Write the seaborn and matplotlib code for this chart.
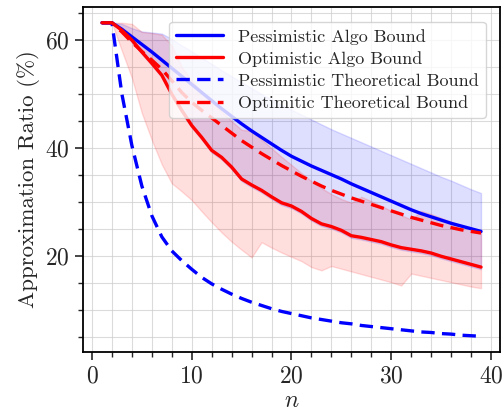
import numpy as np
import seaborn as sns
import matplotlib.pyplot as plt
from matplotlib.ticker import MultipleLocator

# number of items n
n = list(range(1, 40))

pess_algo = [63.2, 63.2, 62.0, 60.6, 59.2, 57.8, 56.3, 54.8, 53.3, 51.8,
             50.3, 48.8, 47.3, 45.9, 44.5, 43.2, 42.0, 40.8, 39.6, 38.5,
             37.6, 36.7, 35.9, 35.1, 34.3, 33.4, 32.6, 31.8, 31.0, 30.2,
             29.4, 28.6, 27.9, 27.3, 26.7, 26.1, 25.6, 25.1, 24.6]
pess_algo_hi = [63.2, 63.2, 63.0, 62.2, 61.6, 61.4, 61.2, 60.2, 59.0, 57.9,
                56.7, 55.6, 54.4, 53.3, 52.2, 51.1, 50.0, 49.0, 48.0, 47.1,
                46.2, 45.3, 44.4, 43.5, 42.7, 41.9, 41.1, 40.3, 39.5, 38.7,
                37.9, 37.1, 36.3, 35.5, 34.7, 34.0, 33.2, 32.4, 31.7]
pess_algo_lo = [63.2, 63.2, 61.5, 59.6, 57.4, 55.3, 53.1, 49.6, 46.6, 43.8,
                41.6, 39.2, 37.9, 36.1, 33.9, 32.8, 31.8, 30.6, 29.5, 28.9,
                27.9, 26.6, 25.6, 25.1, 24.4, 23.4, 23.1, 22.7, 22.3, 21.7,
                21.2, 20.9, 20.6, 20.2, 19.6, 19.1, 18.6, 18.1, 17.6]

opt_algo = [63.2, 63.2, 61.8, 60.0, 57.8, 55.7, 53.5, 50.0, 47.0, 44.2,
            42.0, 39.6, 38.3, 36.5, 34.3, 33.2, 32.2, 31.0, 29.9, 29.3,
            28.3, 27.0, 26.0, 25.5, 24.8, 23.8, 23.5, 23.1, 22.7, 22.1,
            21.6, 21.3, 21.0, 20.6, 20.0, 19.5, 19.0, 18.5, 18.0]
opt_algo_hi = [63.2, 63.2, 63.2, 63.0, 61.5, 61.3, 61.0, 59.0, 55.0, 52.5,
               50.5, 48.6, 46.8, 45.0, 43.4, 43.2, 41.6, 40.0, 38.4, 36.9,
               35.4, 33.9, 32.6, 31.5, 30.6, 29.9, 31.0, 30.2, 29.3, 28.4,
               27.6, 26.8, 28.4, 27.8, 27.1, 26.4, 25.7, 25.1, 24.5]
opt_algo_lo = [63.2, 63.2, 58.0, 53.0, 46.5, 41.5, 37.0, 33.5, 32.0, 30.4,
               28.3, 26.3, 24.4, 22.7, 21.2, 19.8, 22.6, 21.6, 20.7, 19.9,
               19.1, 18.0, 17.4, 18.2, 17.7, 17.2, 16.7, 16.2, 15.7, 15.2,
               14.6, 16.8, 16.4, 16.0, 15.6, 15.2, 14.8, 14.4, 14.1]

pess_theory = [63.2, 63.2, 50.0, 40.5, 33.0, 27.5, 23.6, 21.0, 19.2, 17.6,
               16.1, 14.9, 13.9, 13.0, 12.2, 11.5, 10.9, 10.3, 9.8, 9.4,
               9.0, 8.6, 8.3, 8.0, 7.7, 7.5, 7.2, 7.0, 6.8, 6.6,
               6.4, 6.2, 6.0, 5.9, 5.7, 5.6, 5.4, 5.3, 5.2]
opt_theory = [63.2, 63.2, 61.5, 59.6, 57.9, 56.3, 54.6, 52.5, 50.3, 48.5,
              47.0, 45.6, 44.2, 42.8, 41.4, 40.2, 39.0, 37.9, 36.8, 35.8,
              34.8, 33.9, 33.0, 32.2, 31.5, 30.8, 30.2, 29.6, 29.0, 28.4,
              27.8, 27.2, 26.7, 26.2, 25.7, 25.3, 24.9, 24.6, 24.3]

sns.set_style('ticks')
plt.rcParams['font.family'] = 'serif'
plt.rcParams['font.serif'] = ['cmr10', 'DejaVu Serif']
plt.rcParams['mathtext.fontset'] = 'cm'
plt.rcParams['axes.formatter.use_mathtext'] = True

fig, ax = plt.subplots(figsize=(5.03, 4.17), dpi=100)
fig.subplots_adjust(left=0.165, right=0.994, top=0.983, bottom=0.156)

ax.fill_between(n, pess_algo_lo, pess_algo_hi, color='blue', alpha=0.13)
ax.fill_between(n, opt_algo_lo, opt_algo_hi, color='red', alpha=0.13)

sns.lineplot(x=n, y=pess_algo, color='blue', lw=2.4, ax=ax, label='Pessimistic Algo Bound')
sns.lineplot(x=n, y=opt_algo, color='red', lw=2.4, ax=ax, label='Optimistic Algo Bound')
sns.lineplot(x=n, y=pess_theory, color='blue', lw=2.4, dashes=False, ax=ax,
             label='Pessimistic Theoretical Bound').lines[-1].set_dashes((4, 2.2))
sns.lineplot(x=n, y=opt_theory, color='red', lw=2.4, dashes=False, ax=ax,
             label='Optimitic Theoretical Bound').lines[-1].set_dashes((4, 2.2))

ax.xaxis.set_major_locator(MultipleLocator(10))
ax.xaxis.set_minor_locator(MultipleLocator(2))
ax.yaxis.set_major_locator(MultipleLocator(20))
ax.yaxis.set_minor_locator(MultipleLocator(5))
ax.grid(True, which='both', color='#cccccc', lw=0.8, alpha=0.7)
ax.set_axisbelow(True)
ax.tick_params(which='major', length=6, width=1.2, labelsize=17, direction='out')
ax.tick_params(which='minor', length=3.5, width=1.0)
for s in ax.spines.values():
    s.set_linewidth(1.3)
    s.set_color('black')

ax.set_xlabel('$n$', fontsize=17, labelpad=2)
ax.set_ylabel('Approximation Ratio (%)', fontsize=16.5)
ax.legend(loc='upper right', fontsize=13, framealpha=0.8, handlelength=2.6,
          borderpad=0.4, labelspacing=0.35, borderaxespad=0.8)

fig.savefig('out.png', dpi=100)
